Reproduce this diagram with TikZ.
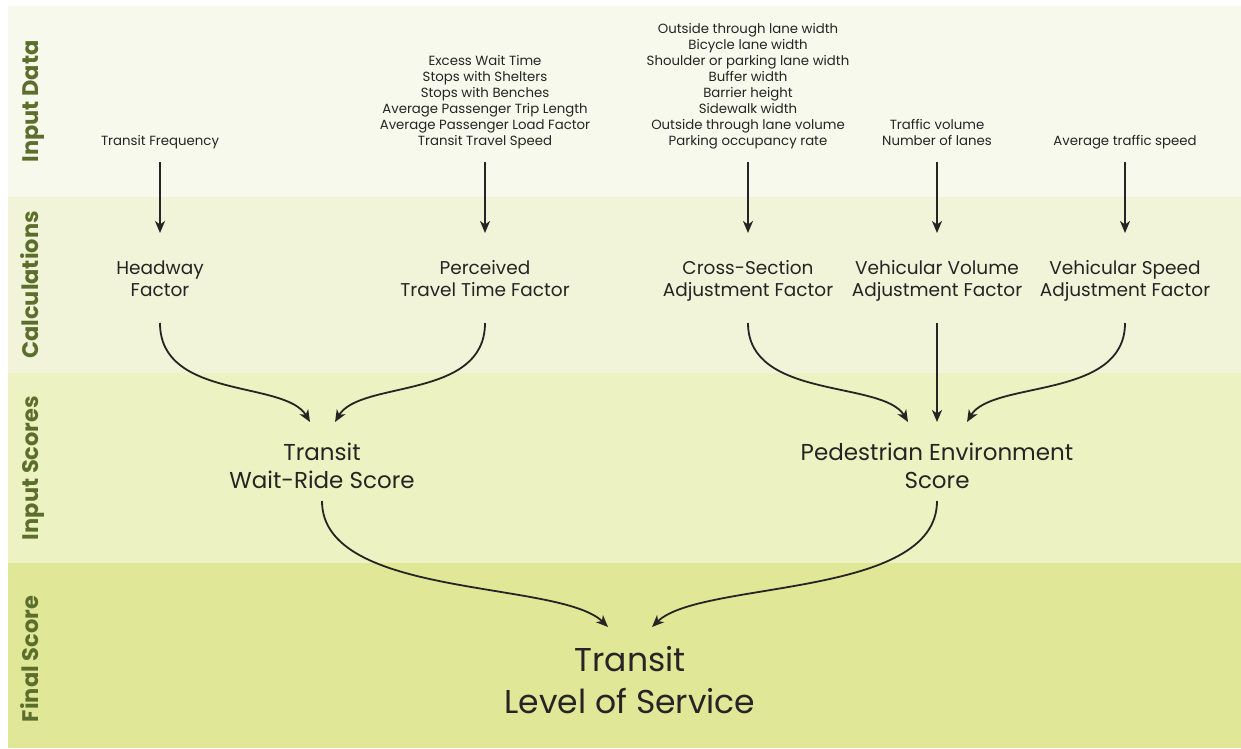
\documentclass[tikz,border=0pt]{standalone}
\usepackage{fontspec}
\setmainfont{Poppins}
\usetikzlibrary{arrows.meta}
\definecolor{bandA}{HTML}{F7F9EC}
\definecolor{bandB}{HTML}{F1F4D8}
\definecolor{bandC}{HTML}{ECF2C1}
\definecolor{bandD}{HTML}{E0E797}
\definecolor{olive}{HTML}{5C6E2C}
\definecolor{ink}{HTML}{262424}
\newcommand\mytopstrut[1]{\rule{0pt}{#1}}
\newcommand\mybotstrut[1]{\rule[-#1]{0pt}{#1}}
\tikzset{
  txt/.style={align=center, inner sep=0pt, outer sep=0pt, text=ink},
  inputtxt/.style={txt, font=\fontsize{13.3}{16}\selectfont, anchor=south},
  calctxt/.style={txt, font=\fontsize{18.5}{22}\selectfont, anchor=north},
  scoretxt/.style={txt, font=\fontsize{23}{28}\selectfont, anchor=north},
  finaltxt/.style={txt, font=\fontsize{33}{42}\selectfont, anchor=north},
  bandlabel/.style={font=\fontsize{22.5}{22.5}\selectfont\bfseries, text=olive, rotate=90, anchor=base, inner sep=0pt},
  arr/.style={draw=ink, line width=1.8pt, -{Stealth[length=12pt,width=10pt,inset=3.5pt]}}
}
\begin{document}
\begin{tikzpicture}[x=1pt,y=-1pt]
\useasboundingbox (0,0) rectangle (1241,748);
\fill[white] (0,0) rectangle (1241,748);
\fill[bandA] (8,6) rectangle (1241,197);
\fill[bandB] (8,197) rectangle (1241,373);
\fill[bandC] (8,373) rectangle (1241,563);
\fill[bandD] (8,563) rectangle (1241,748);

\node[bandlabel] (lbA) at (38,101.5) {Input Data};
\node[bandlabel] (lbB) at (38,285) {Calculations};
\node[bandlabel] (lbC) at (38,468) {Input Scores};
\node[bandlabel] (lbD) at (38,659) {Final Score};

% input data
\node[inputtxt] (i1) at (160,162) {Transit Frequency\mybotstrut{17pt}};
\node[inputtxt] (i2) at (485,162) {Excess Wait Time\\Stops with Shelters\\Stops with Benches\\Average Passenger Trip Length\\Average Passenger Load Factor\\Transit Travel Speed\mybotstrut{17pt}};
\node[inputtxt] (i3) at (748,162) {Outside through lane width\\Bicycle lane width\\Shoulder or parking lane width\\Buffer width\\Barrier height\\Sidewalk width\\Outside through lane volume\\Parking occupancy rate\mybotstrut{17pt}};
\node[inputtxt] (i4) at (937,162) {Traffic volume\\Number of lanes\mybotstrut{17pt}};
\node[inputtxt] (i5) at (1125,162) {Average traffic speed\mybotstrut{17pt}};

% calculations
\node[calctxt] (c1) at (160,233) {\mytopstrut{41pt}Headway\\Factor\mybotstrut{27pt}};
\node[calctxt] (c2) at (485,233) {\mytopstrut{41pt}Perceived\\Travel Time Factor\mybotstrut{27pt}};
\node[calctxt] (c3) at (748,233) {\mytopstrut{41pt}Cross-Section\\Adjustment Factor\mybotstrut{27pt}};
\node[calctxt] (c4) at (937,233) {\mytopstrut{41pt}Vehicular Volume\\Adjustment Factor\mybotstrut{27pt}};
\node[calctxt] (c5) at (1125,233) {\mytopstrut{41pt}Vehicular Speed\\Adjustment Factor\mybotstrut{27pt}};

% input scores
\node[scoretxt] (ws) at (322,422) {\mytopstrut{38pt}Transit\\Wait-Ride Score\mybotstrut{13pt}};
\node[scoretxt] (ped) at (937,422) {\mytopstrut{38pt}Pedestrian Environment\\Score\mybotstrut{13pt}};

% final
\node[finaltxt] (fin) at (630,627) {\mytopstrut{44.5pt}Transit\\Level of Service};

% arrows input -> calc
\draw[arr] (i1.south) -- (c1.north);
\draw[arr] (i2.south) -- (c2.north);
\draw[arr] (i3.south) -- (c3.north);
\draw[arr] (i4.south) -- (c4.north);
\draw[arr] (i5.south) -- (c5.north);

% calc -> scores
\draw[arr] (c1.south) .. controls +(0,77) and +(-25,-42) .. ([xshift=-12pt]ws.north);
\draw[arr] (c2.south) .. controls +(0,77) and +(25,-42) .. ([xshift=13pt]ws.north);
\draw[arr] (c3.south) .. controls +(0,77) and +(-25,-42) .. ([xshift=-29pt]ped.north);
\draw[arr] (c4.south) -- (ped.north);
\draw[arr] (c5.south) .. controls +(0,77) and +(25,-42) .. ([xshift=30pt]ped.north);

% scores -> final
\draw[arr] (ws.south) .. controls +(0,98) and +(-48,-47) .. ([xshift=-22pt]fin.north);
\draw[arr] (ped.south) .. controls +(0,98) and +(48,-47) .. ([xshift=22pt]fin.north);
\end{tikzpicture}
\end{document}
